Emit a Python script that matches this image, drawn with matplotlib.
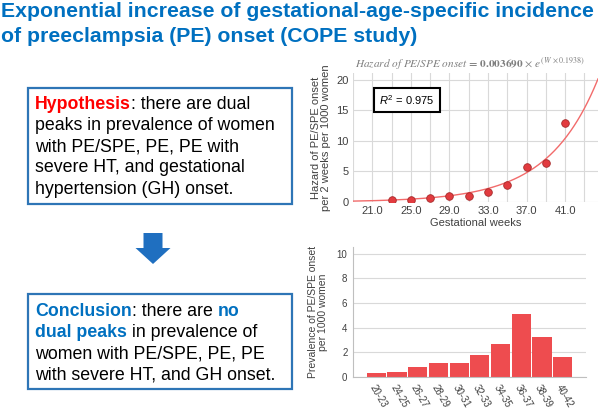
import numpy as np
import matplotlib
matplotlib.use("Agg")
import matplotlib.pyplot as plt
from matplotlib.patches import Rectangle, FancyArrow

plt.rcParams['font.family'] = ['Liberation Sans', 'DejaVu Sans']
plt.rcParams['mathtext.fontset'] = 'custom'
plt.rcParams['mathtext.rm'] = 'Liberation Sans'
plt.rcParams['mathtext.it'] = 'Liberation Sans:italic'

# Daten
weeks = [23, 25, 27, 29, 31, 33, 35, 37, 39, 41]
hazard = [0.3, 0.35, 0.7, 1.0, 1.0, 1.7, 2.7, 5.8, 6.3, 13.0]
fit_a, fit_b = 0.003690, 0.1938
week_ticks = [21, 25, 29, 33, 37, 41]

groups = ["20-23", "24-25", "26-27", "28-29", "30-31",
          "32-33", "34-35", "36-37", "38-39", "40-42"]
prevalence = [0.33, 0.38, 0.78, 1.11, 1.11, 1.76, 2.65, 5.08, 3.24, 1.65]

BLUE = '#0070C0'
RED_BAR = '#EE4C4F'

W, H = 602, 412
fig = plt.figure(figsize=(W / 100, H / 100), dpi=100)

# Overlay in Pixelkoordinaten
ax0 = fig.add_axes([0, 0, 1, 1])
ax0.set_xlim(0, W)
ax0.set_ylim(H, 0)
ax0.axis('off')

renderer = fig.canvas.get_renderer()

def advance(s, size, weight):
    t1 = ax0.text(0, 0, s + "x", fontsize=size, fontweight=weight)
    t2 = ax0.text(0, 0, "x", fontsize=size, fontweight=weight)
    w = t1.get_window_extent(renderer).width - t2.get_window_extent(renderer).width
    t1.remove()
    t2.remove()
    return w

def rich_line(x, y, parts, size=12.8):
    for s, c, wgt in parts:
        ax0.text(x, y, s, color=c, fontsize=size, fontweight=wgt,
                 va='baseline', ha='left')
        x += advance(s, size, wgt)

# Titel
ax0.text(1, 17, "Exponential increase of gestational-age-specific incidence",
         fontsize=15.3, fontweight='bold', color=BLUE, va='baseline')
ax0.text(1, 41.5, "of preeclampsia (PE) onset (COPE study)",
         fontsize=15.3, fontweight='bold', color=BLUE, va='baseline')

# Boxen
ax0.add_patch(Rectangle((28, 88), 264, 116, fill=False, ec='#2E75B6', lw=1.6))
ax0.add_patch(Rectangle((28, 294), 264, 95, fill=False, ec='#2E75B6', lw=1.6))

k = 'black'
pitch = 21.3
y0 = 108.5
hyp = [
    [("Hypothesis", '#FF0000', 'bold'), (": there are dual", k, 'normal')],
    [("peaks in prevalence of women", k, 'normal')],
    [("with PE/SPE, PE, PE with", k, 'normal')],
    [("severe HT, and gestational", k, 'normal')],
    [("hypertension (GH) onset.", k, 'normal')],
]
for i, parts in enumerate(hyp):
    rich_line(35, y0 + i * pitch, parts)

y1 = 315.5
con = [
    [("Conclusion", BLUE, 'bold'), (": there are ", k, 'normal'), ("no", BLUE, 'bold')],
    [("dual peaks ", BLUE, 'bold'), ("in prevalence of", k, 'normal')],
    [("women with PE/SPE, PE, PE", k, 'normal')],
    [("with severe HT, and GH onset.", k, 'normal')],
]
for i, parts in enumerate(con):
    rich_line(35, y1 + i * pitch, parts)

# Pfeil
ax0.add_patch(FancyArrow(153, 233, 0, 31, width=19, head_width=35, head_length=16,
                         length_includes_head=True, color='#1F6FC0', lw=0))

# Oben: Hazard
ax1 = fig.add_axes([353 / W, 1 - 202 / H, 245 / W, 129 / H])
ww = np.linspace(19, 44.4, 300)
ax1.plot(ww, fit_a * np.exp(ww * fit_b), color='#F26B6B', lw=1, zorder=2)
ax1.scatter(weeks, hazard, s=30, color='#E23B3F', edgecolor='#A52A2A', lw=0.6, zorder=3)
ax1.set_xlim(19, 44.4)
ax1.set_ylim(0, 21.1)
ax1.set_xticks(week_ticks)
ax1.set_xticklabels([f"{v:.1f}" for v in week_ticks])
ax1.set_xticks(np.arange(19, 45, 2), minor=True)
ax1.set_yticks([0, 5, 10, 15, 20])
ax1.grid(True, which='both', color='#D9D9D9', lw=0.8)
ax1.set_axisbelow(True)
for s in ax1.spines.values():
    s.set_visible(False)
ax1.tick_params(length=0, labelsize=8, colors='#404040', pad=3)
ax1.tick_params(which='minor', length=0)
ax1.set_xlabel("Gestational weeks", fontsize=8, color='#404040', labelpad=1)
ax1.set_ylabel("Hazard of PE/SPE onset\nper 2 weeks per 1000 women",
               fontsize=8, color='#404040', labelpad=4, linespacing=1.05)
ax1.text(0.478, 1.01, r"$\mathit{Hazard\ of\ PE/SPE\ onset}$ = 0.003690 $\times$ $e^{(W\ \times 0.1938)}$",
         transform=ax1.transAxes, ha='center', va='bottom', fontsize=8.1,
         color='#7F7F7F', family='STIXGeneral', math_fontfamily='stix',
         fontweight='bold')
ax1.text(0.108, 0.79, r"$R^2$ = 0.975", transform=ax1.transAxes, fontsize=8,
         va='center', ha='left',
         bbox=dict(boxstyle='square,pad=0.45', fc='white', ec='black', lw=1.5))

# Unten: Prevalenz
ax2 = fig.add_axes([353 / W, 1 - 377 / H, 233 / W, 130 / H])
x = np.arange(len(groups))
ax2.bar(x, prevalence, width=0.93, color=RED_BAR, zorder=2)
ax2.set_xlim(-1.13, 10.13)
ax2.set_ylim(0, 10.55)
ax2.set_yticks([0, 2, 4, 6, 8, 10])
ax2.set_xticks(x)
ax2.set_xticklabels(groups, rotation=-60, ha='left', va='top', rotation_mode='anchor')
ax2.grid(True, axis='y', color='#D9D9D9', lw=0.8)
ax2.set_axisbelow(True)
for s in ['top', 'right']:
    ax2.spines[s].set_visible(False)
for s in ['left', 'bottom']:
    ax2.spines[s].set_color('#BFBFBF')
ax2.tick_params(length=0, labelsize=7, colors='#404040', pad=4)
ax2.set_ylabel("Prevalence of PE/SPE onset\nper 1000 women",
               fontsize=7.5, color='#404040', labelpad=6, linespacing=1.05)

fig.savefig("out.png", dpi=100)
